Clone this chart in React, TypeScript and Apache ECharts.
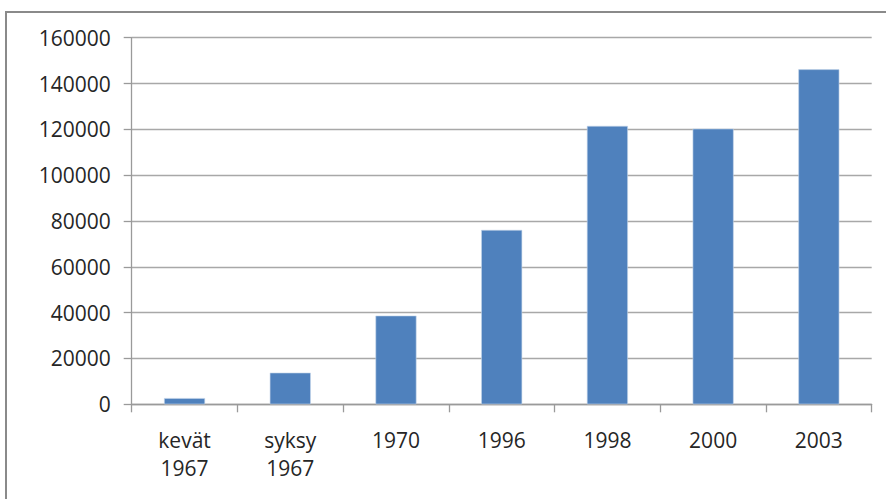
import React, { useEffect, useRef } from "react";
import * as echarts from "echarts";

const categories = ["kevät\n1967", "syksy\n1967", "1970", "1996", "1998", "2000", "2003"];
const values = [2700, 13800, 38700, 76100, 121500, 120300, 146200];
const yMin = 0;
const yMax = 160000;
const yInterval = 20000;

export default function App() {
  const ref = useRef<HTMLDivElement>(null);
  useEffect(() => {
    if (!ref.current) return;
    const chart = echarts.init(ref.current, null, { renderer: "svg" });
    const font = "'Open Sans', 'DejaVu Sans', sans-serif";
    chart.setOption({
      animation: false,
      backgroundColor: "#ffffff",
      graphic: [
        {
          type: "rect",
          shape: { x: 6, y: 12, width: 900, height: 520 },
          style: { fill: "none", stroke: "#8a8a8a", lineWidth: 2 },
          silent: true,
        },
      ],
      grid: { left: 131.7, top: 37.7, right: 14.3, bottom: 94.7, containLabel: false },
      xAxis: {
        type: "category",
        data: categories,
        axisLine: { show: true, lineStyle: { color: "#9a9a9a", width: 1.3 } },
        axisTick: { show: true, length: 8, alignWithLabel: false, lineStyle: { color: "#9a9a9a", width: 1.3 } },
        axisLabel: {
          color: "#262626",
          fontSize: 21,
          fontFamily: font,
          margin: 22,
          lineHeight: 28,
          interval: 0,
        },
        splitLine: { show: false },
      },
      yAxis: {
        type: "value",
        min: yMin,
        max: yMax,
        interval: yInterval,
        axisLine: { show: true, lineStyle: { color: "#9a9a9a", width: 1.3 } },
        axisTick: { show: true, length: 8, lineStyle: { color: "#9a9a9a", width: 1.3 } },
        axisLabel: {
          color: "#262626",
          fontSize: 21,
          fontFamily: font,
          margin: 21,
          formatter: (v: number) => String(v),
        },
        splitLine: { show: true, lineStyle: { color: "#a8a8a8", width: 1.3 } },
      },
      series: [
        {
          type: "bar",
          data: values,
          barWidth: 41,
          itemStyle: { color: "#4F81BD", borderColor: "#c5d5ea", borderWidth: 0.6 },
        },
      ],
    });
    return () => chart.dispose();
  }, []);
  return (
    <div
      ref={ref}
      style={{ position: "absolute", left: 0, top: 0, width: 886, height: 499 }}
    />
  );
}
